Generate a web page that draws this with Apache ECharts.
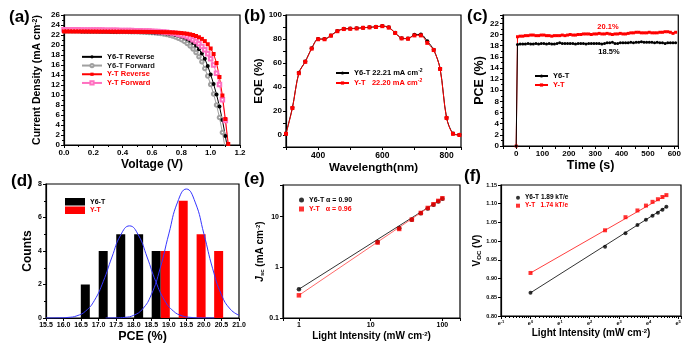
<!DOCTYPE html>
<html><head><meta charset="utf-8">
<script src="https://cdn.jsdelivr.net/npm/echarts@6/dist/echarts.min.js"></script>
<style>html,body{margin:0;padding:0;background:#fff}#c{width:684px;height:344px}</style>
</head><body><div id="c"></div><script>
// ---------- (a) J-V curves ----------
const voltage = [0.00,0.02,0.04,0.06,0.08,0.10,0.12,0.14,0.16,0.18,0.20,0.22,0.24,0.26,0.28,0.30,0.32,0.34,0.36,0.38,0.40,0.42,0.44,0.46,0.48,0.50,
 0.52,0.54,0.56,0.58,0.60,0.62,0.64,0.66,0.68,0.70,0.72,0.74,0.76,0.78,0.80,0.82,0.84,0.86,0.88,0.90,0.92,0.94,0.96,0.98,1.00,1.02,1.04,1.06,1.08,1.10,1.12,1.14];
const jY6TReverse = [22.75,22.75,22.74,22.74,22.73,22.73,22.72,22.72,22.71,22.71,22.70,22.70,22.69,22.69,22.68,22.68,22.67,22.67,22.66,22.66,22.65,22.64,22.63,22.62,22.61,22.60,
 22.59,22.57,22.55,22.53,22.50,22.47,22.44,22.40,22.35,22.30,22.22,22.13,22.02,21.88,21.70,21.48,21.20,20.85,20.40,19.85,19.15,18.30,17.25,15.80,14.10,12.20,10.10,7.70,5.00,1.80,-1.50];
const jY6TForward = [22.85,22.85,22.84,22.84,22.83,22.83,22.82,22.81,22.80,22.80,22.79,22.78,22.77,22.76,22.75,22.74,22.73,22.72,22.71,22.70,22.69,22.68,22.67,22.66,22.65,22.63,
 22.61,22.58,22.55,22.51,22.47,22.42,22.36,22.29,22.20,22.09,21.96,21.80,21.60,21.36,21.07,20.72,20.30,19.80,19.20,18.50,17.65,16.65,15.30,13.80,12.10,10.20,8.00,5.50,2.50,-0.80];
const jYTReverse = [22.72,22.72,22.72,22.71,22.71,22.71,22.70,22.70,22.70,22.69,22.69,22.69,22.68,22.68,22.68,22.67,22.67,22.67,22.66,22.66,22.66,22.65,22.65,22.64,22.64,22.63,
 22.63,22.62,22.62,22.61,22.61,22.60,22.59,22.58,22.57,22.56,22.54,22.51,22.48,22.44,22.39,22.33,22.25,22.14,22.00,21.80,21.55,21.22,20.78,20.15,19.30,18.20,16.40,13.60,9.90,5.20,0.20,-5.00];
const jYTForward = [23.05,23.05,23.04,23.04,23.03,23.03,23.02,23.02,23.01,23.00,23.00,22.99,22.98,22.98,22.97,22.96,22.95,22.94,22.93,22.92,22.91,22.90,22.89,22.88,22.87,22.86,
 22.84,22.82,22.80,22.78,22.75,22.72,22.68,22.64,22.59,22.53,22.46,22.38,22.28,22.16,22.02,21.85,21.64,21.38,21.07,20.70,20.25,19.70,19.05,18.25,17.25,16.00,14.35,12.10,9.05,4.90,-0.50];

// ---------- (b) EQE ----------
const wavelength = [300,320,340,360,380,400,420,440,460,480,500,520,540,560,580,600,620,640,660,680,700,720,740,760,780,800,820,840];
const eqeY6T = [1.2,22.8,51.8,61.2,72.2,80.0,80.0,83.0,86.7,88.5,88.7,89.0,89.4,89.8,90.2,90.8,89.7,85.2,80.7,80.4,83.6,83.8,78.2,71.0,55.3,14.4,1.3,0.2];
const eqeYT  = [1.0,22.5,51.5,61.0,72.0,79.8,79.8,82.8,86.5,88.3,88.5,88.8,89.3,89.7,90.0,90.7,89.5,85.0,80.5,80.2,83.0,83.0,76.8,70.8,55.0,14.2,1.0,0.0];

// ---------- (c) stabilized PCE ----------
const timeS = [0,5,15,25,35,45,55,65,75,85,95,105,115,125,135,145,155,165,175,185,195,205,215,225,235,245,255,265,275,285,295,305,315,325,335,345,355,365,375,385,395,405,415,425,435,445,455,465,475,485,495,505,515,525,535,545,555,565,575,585,595,605];
const pceTimeYT = [0,19.6,19.7,19.7,19.8,19.8,19.9,19.9,19.8,19.8,19.9,19.9,19.8,19.8,19.7,19.8,19.8,19.8,19.9,19.8,19.9,20.0,19.9,19.9,20.0,20.0,20.1,20.1,20.1,20.0,20.1,
 20.1,20.2,20.1,20.1,20.2,20.1,20.0,20.1,20.1,20.2,20.1,20.1,20.2,20.3,20.3,20.4,20.4,20.3,20.3,20.3,20.4,20.3,20.3,20.3,20.4,20.4,20.5,20.5,20.4,20.2,20.4];
const pceTimeY6T = [0,18.2,18.3,18.3,18.3,18.4,18.3,18.3,18.4,18.3,18.4,18.4,18.3,18.4,18.3,18.3,18.4,18.5,18.4,18.4,18.4,18.4,18.4,18.3,18.4,18.4,18.4,18.3,18.4,18.4,18.4,
 18.4,18.4,18.3,18.4,18.5,18.5,18.6,18.4,18.4,18.5,18.5,18.5,18.5,18.6,18.5,18.6,18.6,18.7,18.6,18.6,18.6,18.6,18.5,18.6,18.5,18.5,18.4,18.5,18.5,18.5,18.5];

// ---------- (d) PCE histogram ----------
const binY6T = [16.62,17.13,17.63,18.14,18.64];
const countY6T = [2,4,5,5,4];
const binYT = [18.90,19.41,19.92,20.42];
const countYT = [4,7,5,4];
const gaussXY6T = [15.5,15.88,16.13,16.38,16.63,16.88,17.13,17.38,17.63,17.88,18.13,18.38,18.63,18.88,19.13,19.38,19.63,19.88,20.3];
const gaussYY6T = [0.001,0.008,0.035,0.13,0.415,1.05,2.17,3.64,4.96,5.5,4.96,3.64,2.17,1.05,0.415,0.13,0.035,0.008,0.0];
const gaussXYT = [17.2,17.5,17.75,18.0,18.25,18.5,18.75,19.0,19.25,19.5,19.75,20.0,20.25,20.5,20.75,21.0];
const gaussYYT = [0.001,0.008,0.04,0.163,0.53,1.39,2.94,5.02,6.92,7.7,6.92,5.02,2.94,1.39,0.53,0.163];

// ---------- (e),(f) light intensity ----------
const intensity = [1,12.5,25,37.5,50,62.5,75,87.5,100];
const jscY6T = [0.37,3.16,5.9,8.7,11.6,14.5,17.2,19.9,22.4];
const jscYT  = [0.28,3.07,5.71,8.73,11.8,14.8,17.5,20.4,23.0];
const fitIntensity = [1,100];
const jscFitY6T = [0.37,22.8];
const jscFitYT  = [0.28,23.2];
const vocY6T = [0.862,0.985,1.021,1.043,1.057,1.068,1.076,1.084,1.092];
const vocYT  = [0.915,1.029,1.064,1.082,1.095,1.105,1.112,1.118,1.123];
const vocFitY6T = [0.862,1.092];
const vocFitYT  = [0.915,1.123];

// ---------- rendering ----------
const FONT = '"Liberation Sans", Arial, sans-serif';
const zip = (xs, ys) => ys.map((y, i) => [xs[i], y]);
const rich = fs => ({
  sup: {fontSize: Math.round(fs * 0.62), fontWeight: 'bold', fontFamily: FONT, verticalAlign: 'top'},
  sub: {fontSize: Math.round(fs * 0.62), fontWeight: 'bold', fontFamily: FONT, verticalAlign: 'bottom'},
  it: {fontSize: fs, fontWeight: 'bold', fontStyle: 'italic', fontFamily: FONT}
});
function ax(p) {
  const a = {
    type: p.type || 'value', gridIndex: p.g, min: p.min, max: p.max,
    axisLine: {show: true, onZero: false, lineStyle: {color: '#000', width: 1.2}},
    axisTick: {show: true, inside: false, length: p.tl || 3, lineStyle: {color: '#000', width: 1}},
    minorTick: {show: !!p.minor, splitNumber: p.minor || 2, length: 2, lineStyle: {color: '#000', width: 1}},
    axisLabel: {color: '#000', fontWeight: 'bold', fontSize: p.ls || 8, fontFamily: FONT, margin: p.lm || 4,
      formatter: p.fmt, rich: p.lrich, hideOverlap: false},
    splitLine: {show: false}, minorSplitLine: {show: false},
    name: p.name, nameLocation: 'middle', nameGap: p.ng,
    nameTextStyle: {color: '#000', fontWeight: 'bold', fontSize: p.ns || 11, fontFamily: FONT, rich: rich(p.ns || 11)}
  };
  if (p.interval != null) a.interval = p.interval;
  if (p.logBase) a.logBase = p.logBase;
  return a;
}
const isPow10 = v => Math.abs(Math.log10(v) - Math.round(Math.log10(v))) < 1e-6;

const grids = [
  {left: 64, top: 15, width: 176, height: 130},
  {left: 286, top: 15, width: 175, height: 132},
  {left: 503, top: 15, width: 178, height: 131},
  {left: 46, top: 184, width: 193, height: 134},
  {left: 283, top: 185, width: 177, height: 133},
  {left: 501, top: 185, width: 180, height: 131}
].map(g => Object.assign({show: true, borderColor: '#000', borderWidth: 1.2, backgroundColor: 'transparent'}, g));

const xAxis = [
  ax({g: 0, min: 0, max: 1.2, interval: 0.2, minor: 2, fmt: v => v.toFixed(1), name: 'Voltage (V)', ns: 12, ng: 14}),
  ax({g: 1, min: 300, max: 845, interval: 100, ls: 8.5, fmt: v => (v % 200 === 0 ? String(v) : ''), name: 'Wavelength(nm)', ns: 11.5, ng: 15}),
  ax({g: 2, min: -50, max: 615, interval: 50, fmt: v => (v >= 0 && v % 100 === 0 ? String(v) : ''), name: 'Time (s)', ns: 12.5, ng: 12}),
  ax({g: 3, min: 15.5, max: 21.0, interval: 0.5, ls: 7, fmt: v => v.toFixed(1), name: 'PCE (%)', ns: 12.5, ng: 12}),
  ax({g: 4, type: 'log', min: 0.6, max: 176, ls: 7, fmt: v => (isPow10(v) ? String(Math.round(v)) : ''),
      name: 'Light Intensity (mW cm{sup|-2})', ns: 10, ng: 13}),
  ax({g: 5, type: 'log', logBase: Math.E, min: Math.exp(-1), max: Math.exp(5.1), ls: 5.5, minor: 10,
      fmt: v => { const n = Math.log(v); return Math.abs(n - Math.round(n)) < 0.01 ? 'e{s|' + Math.round(n) + '}' : ''; },
      lrich: {s: {fontSize: 4, fontWeight: 'bold', verticalAlign: 'top'}},
      name: 'Light Intensity (mW cm{sup|-2})', ns: 10, ng: 12})
];
const yAxis = [
  ax({g: 0, min: 0, max: 26, interval: 2, minor: 2, name: 'Current Density (mA cm{sup|-2})', ns: 10.5, ng: 21}),
  ax({g: 1, min: -10, max: 100, interval: 10, fmt: v => (v >= 0 && v % 20 === 0 ? String(v) : ''), name: 'EQE (%)', ns: 11.5, ng: 19}),
  ax({g: 2, min: 0, max: 23.5, interval: 2, minor: 2, fmt: v => (v % 2 === 0 ? String(v) : ''), name: 'PCE (%)', ns: 12.5, ng: 16}),
  ax({g: 3, min: 0, max: 8, interval: 2, minor: 2, ls: 7, name: 'Counts', ns: 12, ng: 12}),
  ax({g: 4, type: 'log', min: 0.1, max: 42, ls: 7, fmt: v => (isPow10(v) ? (v >= 1 ? String(Math.round(v)) : '0.1') : ''),
      name: '{it|J}{sub|sc} (mA cm{sup|-2})', ns: 10, ng: 9}),
  ax({g: 5, min: 0.8, max: 1.15, interval: 0.05, ls: 5.5, fmt: v => v.toFixed(2), name: 'V{sub|OC} (V)', ns: 10, ng: 16})
];

const lt = (fs) => ({fontSize: fs, fontWeight: 'bold', fontFamily: FONT, color: '#000', lineHeight: fs + 1.5, rich: rich(fs)});
const legendNames = {
  b1: 'Y6-T 22.21 mA cm{sup|-2}', b2: 'Y-T   22.20 mA cm{sup|-2}',
  d1: 'Y6-T', d2: 'Y-T',
  e1: 'Y6-T \u03b1 = 0.90', e2: 'Y-T   \u03b1 = 0.96',
  f1: 'Y6-T 1.89 kT/e', f2: 'Y-T   1.74 kT/e'
};
const fmtName = n => legendNames[n] || n;
const legend = [
  {left: 76, top: 47.5, orient: 'vertical', itemWidth: 20, itemHeight: 4, itemGap: 0, textStyle: Object.assign(lt(7.5), {lineHeight: 8.7}),
   data: [{name: 'Y6-T Reverse'}, {name: 'Y6-T Forward', textStyle: {color: '#222'}}, {name: 'Y-T Reverse', textStyle: {color: '#f00'}}, {name: 'Y-T Forward', textStyle: {color: '#f00'}}]},
  {left: 330, top: 63, orient: 'vertical', itemWidth: 13, itemHeight: 4, itemGap: 0, formatter: fmtName, textStyle: Object.assign(lt(7.5), {lineHeight: 10}),
   data: [{name: 'b1'}, {name: 'b2', textStyle: {color: '#f00'}}]},
  {left: 529, top: 66.5, orient: 'vertical', itemWidth: 13, itemHeight: 4, itemGap: 0, textStyle: Object.assign(lt(7.5), {lineHeight: 9}),
   data: [{name: 'Y6-T'}, {name: 'Y-T', textStyle: {color: '#f00'}}]},
  {left: 60, top: 193, orient: 'vertical', icon: 'rect', itemWidth: 20, itemHeight: 7.5, itemGap: 1, formatter: fmtName, textStyle: Object.assign(lt(7), {lineHeight: 7.5}),
   data: [{name: 'd1'}, {name: 'd2', textStyle: {color: '#f00'}}]},
  {left: 294, top: 190.5, orient: 'vertical', itemWidth: 5, itemHeight: 5, itemGap: 0, formatter: fmtName, textStyle: Object.assign(lt(7), {lineHeight: 9}),
   data: [{name: 'e1'}, {name: 'e2', textStyle: {color: '#f00'}}]},
  {left: 511, top: 188.7, orient: 'vertical', itemWidth: 4, itemHeight: 4, itemGap: 0, formatter: fmtName, textStyle: Object.assign(lt(6.5), {lineHeight: 8}),
   data: [{name: 'f1'}, {name: 'f2', textStyle: {color: '#f00'}}]}
];

const letter = (t, x, y) => ({type: 'text', left: x, top: y, style: {text: t, font: 'bold 17px ' + FONT, fill: '#000'}});
const graphic = [
  letter('(a)', 9, 9), letter('(b)', 244, 8), letter('(c)', 467, 8),
  letter('(d)', 11, 173), letter('(e)', 244, 171), letter('(f)', 464, 168),
  {type: 'text', x: 608, y: 27, style: {text: '20.1%', font: 'bold 7.5px ' + FONT, fill: '#f00', align: 'center', verticalAlign: 'middle'}},
  {type: 'text', x: 609, y: 52, style: {text: '18.5%', font: 'bold 7.5px ' + FONT, fill: '#000', align: 'center', verticalAlign: 'middle'}}
];

const L = (name, gi, data, color, symbol, size, extra) => Object.assign({
  type: 'line', name, xAxisIndex: gi, yAxisIndex: gi, data, symbol, symbolSize: size,
  itemStyle: {color}, lineStyle: {color, width: 1}, clip: true, z: 3
}, extra || {});

const series = [
  // (a)
  L('Y6-T Forward', 0, zip(voltage, jY6TForward), '#a0a0a0', 'emptyCircle', 3.5),
  L('Y6-T Reverse', 0, zip(voltage, jY6TReverse), '#000', 'circle', 4),
  L('Y-T Forward', 0, zip(voltage, jYTForward), '#ff70c0', 'emptyRect', 3.5),
  L('Y-T Reverse', 0, zip(voltage, jYTReverse), '#ff0000', 'rect', 4),
  // (b)
  L('b1', 1, zip(wavelength, eqeY6T), '#000', 'circle', 4, {smooth: 0.3}),
  L('b2', 1, zip(wavelength, eqeYT), '#ff0000', 'rect', 4, {smooth: 0.3}),
  // (c)
  L('Y-T', 2, zip(timeS, pceTimeYT), '#ff0000', 'rect', 3),
  L('Y6-T', 2, zip(timeS, pceTimeY6T), '#000', 'circle', 3),
  // (d)
  {type: 'bar', name: 'd1', xAxisIndex: 3, yAxisIndex: 3, data: zip(binY6T, countY6T), barWidth: 9, barGap: '-100%', itemStyle: {color: '#000'}},
  {type: 'bar', name: 'd2', xAxisIndex: 3, yAxisIndex: 3, data: zip(binYT, countYT), barWidth: 9, barGap: '-100%', itemStyle: {color: '#ff0000'}},
  L('gd1', 3, zip(gaussXY6T, gaussYY6T), '#3535ff', 'none', 0, {smooth: true, z: 5}),
  L('gd2', 3, zip(gaussXYT, gaussYYT), '#3535ff', 'none', 0, {smooth: true, z: 5}),
  // (e)
  L('fe1', 4, zip(fitIntensity, jscFitY6T), '#333', 'none', 0),
  L('fe2', 4, zip(fitIntensity, jscFitYT), '#ff6a6a', 'none', 0),
  {type: 'scatter', name: 'e1', xAxisIndex: 4, yAxisIndex: 4, data: zip(intensity, jscY6T), symbol: 'circle', symbolSize: 4.5, itemStyle: {color: '#000'}, z: 4},
  {type: 'scatter', name: 'e2', xAxisIndex: 4, yAxisIndex: 4, data: zip(intensity, jscYT), symbol: 'rect', symbolSize: 4.5, itemStyle: {color: '#ff0000'}, z: 4},
  // (f)
  L('ff1', 5, zip(fitIntensity, vocFitY6T), '#333', 'none', 0),
  L('ff2', 5, zip(fitIntensity, vocFitYT), '#ff4040', 'none', 0),
  {type: 'scatter', name: 'f1', xAxisIndex: 5, yAxisIndex: 5, data: zip(intensity, vocY6T), symbol: 'circle', symbolSize: 4, itemStyle: {color: '#000'}, z: 4},
  {type: 'scatter', name: 'f2', xAxisIndex: 5, yAxisIndex: 5, data: zip(intensity, vocYT), symbol: 'rect', symbolSize: 4, itemStyle: {color: '#ff0000'}, z: 4}
];

const chart = echarts.init(document.getElementById('c'), null, {renderer: 'canvas'});
chart.setOption({animation: false, backgroundColor: '#fff', grid: grids, xAxis, yAxis, legend, graphic, series});
</script></body></html>
